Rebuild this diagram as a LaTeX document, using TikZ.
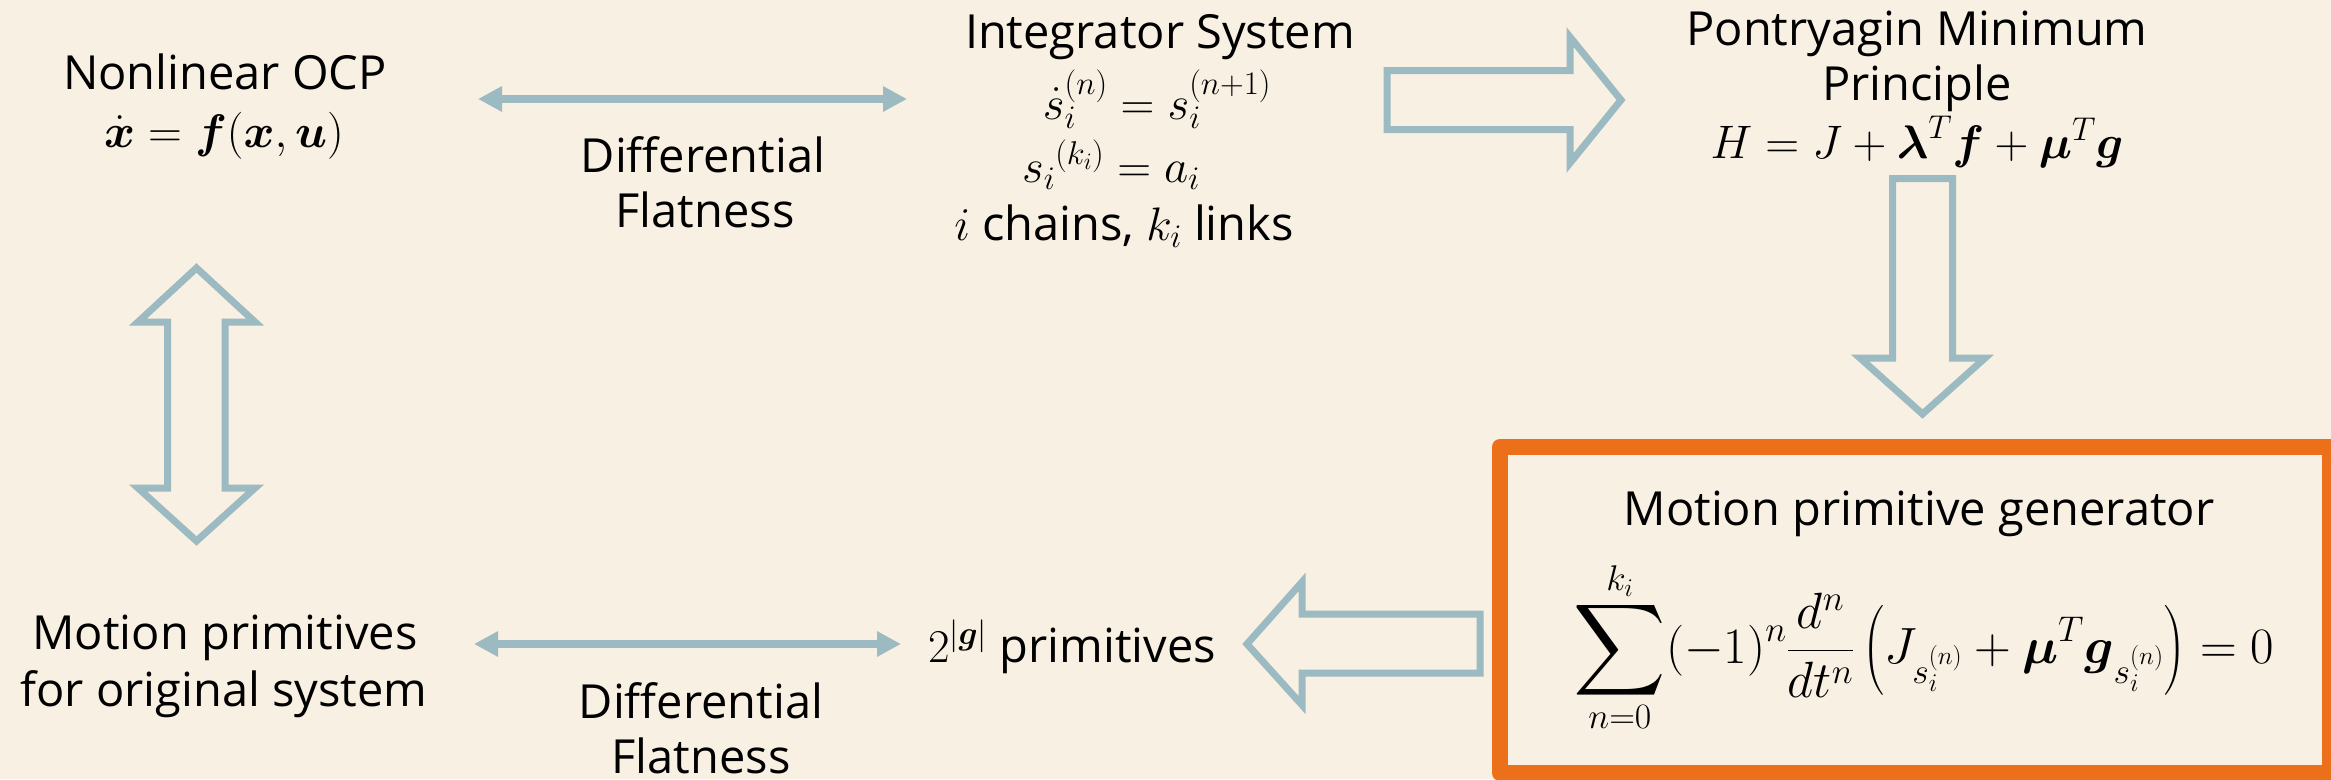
\RequirePackage{fix-cm}
\documentclass[tikz,border=0pt]{standalone}
\usepackage{amsmath}
\usepackage{graphicx}
\usepackage[no-math]{fontspec}
\setmainfont{Open Sans}
\usetikzlibrary{arrows.meta}
\definecolor{bg}{HTML}{F8F0E3}
\definecolor{arr}{HTML}{9BBAC2}
\definecolor{org}{HTML}{EC7019}
\newcommand{\bigsumop}{\mathop{\vcenter{\hbox{\resizebox{!}{84pt}{$\displaystyle\sum$}}}}\limits}
\begin{document}
\begin{tikzpicture}[x=1pt,y=-1pt,
  txt/.style={anchor=base, inner sep=0pt, font=\fontsize{47}{56}\selectfont},
  hollow/.style={draw=arr, line width=7pt, line join=miter},
  thinarrow/.style={draw=arr, line width=8pt, {Triangle[length=24pt,width=24pt]}-{Triangle[length=24pt,width=24pt]}}]
\fill[bg] (0,0) rectangle (2331,779);
\useasboundingbox (0,0) rectangle (2331,779);

% texts
\node[txt] (ocp) at (225,89) {Nonlinear OCP};
\node[txt] (ocpeq) at (224,147) {$\dot{\boldsymbol{x}} = \boldsymbol{f}(\boldsymbol{x},\boldsymbol{u})$};
\node[txt] (df1a) at (703,172) {Differential};
\node[txt] (df1b) at (705,227) {Flatness};
\node[txt] (int) at (1160,48) {Integrator System};
\node[txt] (inteq1) at (1157,119) {${\dot{s}_i}^{(n)} = s_i^{(n+1)}$};
\node[txt] (inteq2) at (1111,182) {${s_i}^{(k_i)} = a_i$};
\node[txt] (intch) at (1124,240) {$i$ chains, $k_i$ links};
\node[txt] (pmp1) at (1917,45) {Pontryagin Minimum};
\node[txt] (pmp2) at (1917,100) {Principle};
\node[txt] (pmpeq) at (1917,158) {$H = J + \boldsymbol{\lambda}^T \boldsymbol{f} + \boldsymbol{\mu}^T \boldsymbol{g}$};
\node[txt] (mpg) at (1919,525) {Motion primitive generator};
\node[txt, font=\fontsize{51}{60}\selectfont] (mpgeq) at (1924,663) {$\displaystyle\bigsumop_{n=0}^{k_i}(-1)^n\frac{d^n}{dt^n}\left(J_{s_i^{(n)}}+\boldsymbol{\mu}^T\boldsymbol{g}_{s_i^{(n)}}\right)=0$};
\node[txt] (mp1) at (225,649) {Motion primitives};
\node[txt] (mp2) at (224,706) {for original system};
\node[txt] (df2a) at (701,718) {Differential};
\node[txt] (df2b) at (701,773) {Flatness};
\node[txt] (prim) at (1072,662) {$2^{|\boldsymbol{g}|}$ primitives};

% orange box
\draw[org, line width=16pt, line join=round] (1500,447) rectangle (2330,773);

% thin double arrows
\coordinate (a1) at (478,99);
\coordinate (a2) at (907,99);
\coordinate (b1) at (474,644);
\coordinate (b2) at (901,644);
\draw[thinarrow] (a1) -- (a2);
\draw[thinarrow] (b1) -- (b2);

% hollow right arrow
\draw[hollow] (1387,70.5) -- (1570,70.5) -- (1570,37) -- (1621,100) -- (1570,163) -- (1570,129.5) -- (1387,129.5) -- cycle;
% hollow down arrow
\draw[hollow] (1892.5,178.5) -- (1952.5,178.5) -- (1952.5,358) -- (1985,358) -- (1922.5,414) -- (1860,358) -- (1892.5,358) -- cycle;
% hollow vertical double arrow
\draw[hollow] (196.5,268) -- (255,322) -- (225,322) -- (225,488) -- (255,488) -- (196.5,541) -- (138,488) -- (167.5,488) -- (167.5,322) -- (138,322) -- cycle;
% hollow left arrow
\draw[hollow] (1480,614) -- (1302,614) -- (1302,582) -- (1247,644) -- (1302,705) -- (1302,673) -- (1480,673) -- cycle;
\end{tikzpicture}
\end{document}
